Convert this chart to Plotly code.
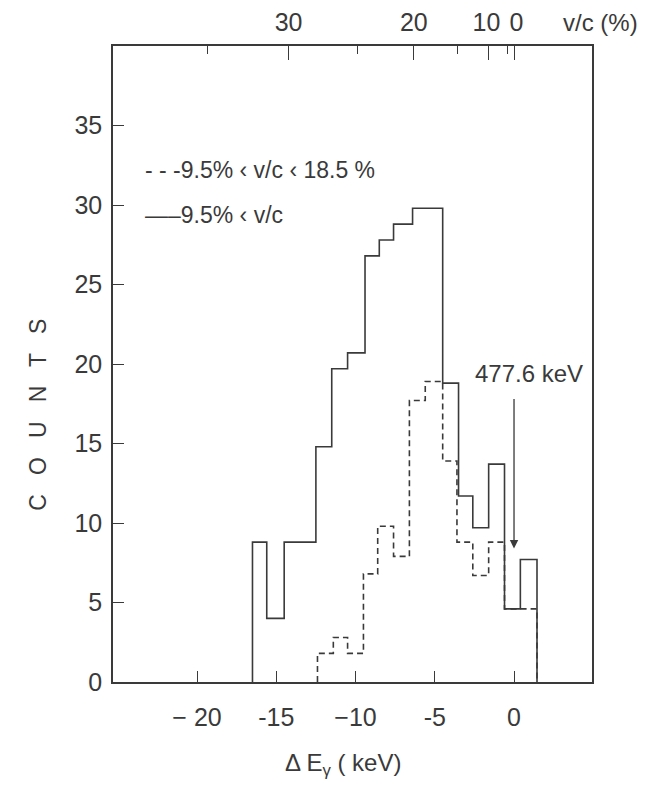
import plotly.graph_objects as go

# ---- data ----
# solid histogram: 9.5% < v/c
solid_edges = [-16.5, -15.6, -14.5, -12.5, -11.5, -10.5, -9.4, -8.5, -7.6, -6.4,
               -4.5, -3.5, -2.6, -1.6, -0.6, 0.4, 1.45]
solid_counts = [8.8, 4.0, 8.8, 14.8, 19.7, 20.7, 26.8, 27.8, 28.8, 29.8,
                18.8, 11.7, 9.7, 13.7, 4.6, 7.7]

# dashed histogram: 9.5% < v/c < 18.5%
dashed_edges = [-12.4, -11.4, -10.5, -9.5, -8.6, -7.6, -6.6, -5.6, -4.5, -3.6,
                -2.6, -1.6, -0.6, 0.4, 1.45]
dashed_counts = [1.8, 2.8, 1.8, 6.8, 9.8, 7.9, 17.7, 18.9, 13.9, 8.8,
                 6.7, 8.8, 4.6, 4.6]

x_ticks = [-20, -15, -10, -5, 0]
x_ticktext = ["\u2212 20", "-15", "\u221210", "-5", "0"]
y_ticks = [0, 5, 10, 15, 20, 25, 30, 35]

# top axis: v/c in percent (Doppler shift scale, dE = -k * (v/c)^2)
vc_major = [30, 20, 10, 0]
vc_major_text = ["30", "20", "10\u2009", "\u20090"]
vc_minor = [35, 25, 15, 5]
k_shift = 0.0158  # keV per (%)^2

line_energy_label = "477.6 keV"
arrow_tip_count = 8.4
arrow_tail_count = 17.9

X_RANGE = [-25.3, 4.92]
Y_RANGE = [0, 40]
INK = "#3a3a3a"
FONT = "Liberation Sans, Arial, sans-serif"
TS = 25


def step_xy(edges, counts):
    xs = [edges[0]] + list(edges)
    ys = [0] + list(counts) + [0]
    return xs, ys


fig = go.Figure()

sx, sy = step_xy(solid_edges, solid_counts)
fig.add_trace(go.Scatter(x=sx, y=sy, mode="lines", line_shape="hv",
                         line=dict(color=INK, width=1.6), showlegend=False,
                         hoverinfo="skip"))
dx, dy = step_xy(dashed_edges, dashed_counts)
fig.add_trace(go.Scatter(x=dx, y=dy, mode="lines", line_shape="hv",
                         line=dict(color=INK, width=1.6, dash="6px,4px"),
                         showlegend=False, hoverinfo="skip"))
# empty trace to anchor the top axis
fig.add_trace(go.Scatter(x=[], y=[], xaxis="x2", showlegend=False))

top_major_pos = [-k_shift * v * v for v in vc_major]
top_minor_pos = [-k_shift * v * v for v in vc_minor]

fig.update_layout(
    width=639, height=781,
    margin=dict(l=105, r=55, t=38, b=107),
    paper_bgcolor="white", plot_bgcolor="white",
    font=dict(family=FONT, color=INK, size=TS),
    xaxis=dict(range=X_RANGE, showgrid=False, zeroline=False,
               showline=True, linecolor=INK, linewidth=1.5, mirror=True,
               tickmode="array", tickvals=x_ticks, ticktext=x_ticktext,
               ticks="inside", ticklen=11, tickwidth=1.3, tickcolor=INK,
               ticklabelstandoff=12, tickangle=0, automargin=False,
               tickfont=dict(size=TS, color=INK)),
    xaxis2=dict(range=X_RANGE, overlaying="x", side="top", matches="x",
                showgrid=False, zeroline=False, showline=False,
                tickmode="array", tickvals=top_major_pos,
                ticktext=vc_major_text, tickangle=0, automargin=False,
                ticks="inside", ticklen=14, tickwidth=1.3, tickcolor=INK,
                ticklabelstandoff=9,
                minor=dict(tickmode="array", tickvals=top_minor_pos,
                           ticks="inside", ticklen=8, tickwidth=1.3,
                           tickcolor=INK),
                tickfont=dict(size=TS, color=INK)),
    yaxis=dict(range=Y_RANGE, showgrid=False, zeroline=False,
               showline=True, linecolor=INK, linewidth=1.5, mirror=True,
               tickmode="array", tickvals=y_ticks, automargin=False,
               ticks="inside", ticklen=11, tickwidth=1.3, tickcolor=INK,
               ticklabelstandoff=4,
               tickfont=dict(size=TS, color=INK)),
)

annotations = [
    dict(text="v/c (%)", xref="paper", yref="paper", x=1.017, y=1.0377,
         xanchor="center", yanchor="middle",
         showarrow=False, font=dict(size=24, color=INK)),
    dict(text="C   O   U   N   T   S", xref="paper", yref="paper",
         x=-0.1566, y=0.42, xanchor="center", yanchor="middle",
         textangle=-90, showarrow=False, font=dict(size=23, color=INK)),
    dict(text="\u0394 E<sub>\u03b3</sub> ( keV)", xref="paper", yref="paper",
         x=0.48, y=-0.1305, xanchor="center", yanchor="middle",
         showarrow=False, font=dict(size=TS - 1, color=INK)),
    dict(text="- - -9.5% \u2039 v/c \u2039 18.5 %", xref="paper", yref="paper",
         x=0.063, y=0.805, xanchor="left", yanchor="middle", showarrow=False,
         font=dict(size=23, color=INK)),
    dict(text="\u2014\u20139.5% \u2039 v/c", xref="paper", yref="paper",
         x=0.063, y=0.734, xanchor="left", yanchor="middle", showarrow=False,
         font=dict(size=23, color=INK)),
    dict(text=line_energy_label, x=0.95, y=19.4, xref="x", yref="y",
         xanchor="center", yanchor="middle",
         showarrow=False, font=dict(size=24, color=INK)),
    dict(text="", x=0, y=arrow_tip_count, ax=0, ay=arrow_tail_count,
         xref="x", yref="y", axref="x", ayref="y", showarrow=True,
         arrowhead=2, arrowsize=1.3, arrowwidth=1.3, arrowcolor=INK),
]
fig.update_layout(annotations=annotations)

fig.write_html("out.html")
